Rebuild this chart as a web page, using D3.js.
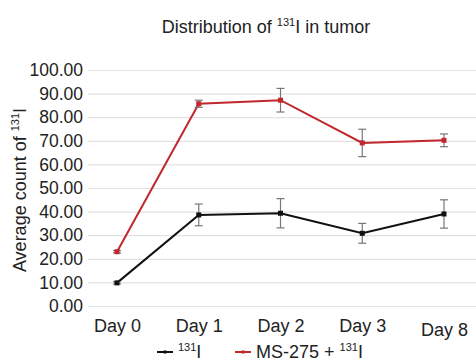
<!DOCTYPE html>
<html>
<head>
<meta charset="utf-8">
<script src="https://cdn.jsdelivr.net/npm/d3@7"></script>
<style>
  body { margin: 0; background: #fff; }
  text { font-family: "Liberation Sans", Arial, sans-serif; fill: #222; }
</style>
</head>
<body>
<svg id="chart" width="476" height="361"></svg>
<script>
let days = ['Day 0', 'Day 1', 'Day 2', 'Day 3', 'Day 8'];
let iodineMean = [9.8, 38.6, 39.3, 30.8, 39.0];
let iodineErr = [0.5, 4.6, 6.2, 4.2, 6.0];
let msMean = [23.0, 85.7, 87.2, 69.1, 70.2];
let msErr = [0.5, 1.5, 5.0, 5.8, 2.7];
let yTicks = [0, 10, 20, 30, 40, 50, 60, 70, 80, 90, 100];

let svg = d3.select('#chart');

let xScale = d3.scalePoint().domain(days).range([117, 444]);
let yScale = d3.scaleLinear().domain([0, 100]).range([306, 70]);

// grid + y labels
let yAxis = d3.axisLeft(yScale).tickValues(yTicks).tickFormat(d3.format('.2f'))
  .tickSize(-388).tickPadding(5);
let yAxisG = svg.append('g').attr('transform', 'translate(88,0)').call(yAxis);
yAxisG.select('.domain').remove();
yAxisG.selectAll('line').attr('stroke', '#e2e2e2').attr('stroke-width', 1.2);
yAxisG.selectAll('text').attr('font-size', 17.5).attr('fill', '#222')
  .attr('font-family', '"Liberation Sans", Arial, sans-serif');

// x labels
let xAxis = d3.axisBottom(xScale).tickSize(0).tickPadding(12);
let xAxisG = svg.append('g').attr('transform', 'translate(0,306)').call(xAxis);
xAxisG.select('.domain').remove();
xAxisG.selectAll('text').attr('font-size', 18).attr('fill', '#222')
  .attr('font-family', '"Liberation Sans", Arial, sans-serif')
  .attr('dy', (d) => d === 'Day 8' ? '1.0em' : '0.78em');

let series = [
  {name: 'iodine', mean: iodineMean, err: iodineErr, color: '#111'},
  {name: 'ms', mean: msMean, err: msErr, color: '#c1272d'}
];

let line = d3.line().x((d, i) => xScale(days[i])).y(d => yScale(d));

series.forEach(s => {
  let g = svg.append('g');
  g.append('path').datum(s.mean)
    .attr('fill', 'none').attr('stroke', s.color).attr('stroke-width', 2)
    .attr('d', line);

  let eb = g.selectAll('.eb').data(s.mean).enter().append('g')
    .attr('stroke', '#777').attr('stroke-width', 1.2);
  eb.append('line')
    .attr('x1', (d, i) => xScale(days[i])).attr('x2', (d, i) => xScale(days[i]))
    .attr('y1', (d, i) => yScale(d + s.err[i])).attr('y2', (d, i) => yScale(d - s.err[i]));
  eb.append('line')
    .attr('x1', (d, i) => xScale(days[i]) - 4).attr('x2', (d, i) => xScale(days[i]) + 4)
    .attr('y1', (d, i) => yScale(d + s.err[i])).attr('y2', (d, i) => yScale(d + s.err[i]));
  eb.append('line')
    .attr('x1', (d, i) => xScale(days[i]) - 4).attr('x2', (d, i) => xScale(days[i]) + 4)
    .attr('y1', (d, i) => yScale(d - s.err[i])).attr('y2', (d, i) => yScale(d - s.err[i]));

  g.selectAll('rect').data(s.mean).enter().append('rect')
    .attr('x', (d, i) => xScale(days[i]) - 2.5)
    .attr('y', d => yScale(d) - 2.5)
    .attr('width', 5).attr('height', 5)
    .attr('fill', s.color);
});

// title
let title = svg.append('text').attr('x', 266).attr('y', 33)
  .attr('text-anchor', 'middle').attr('font-size', 18);
title.append('tspan').text('Distribution of ');
title.append('tspan').attr('font-size', 11).attr('dy', -7).text('131');
title.append('tspan').attr('dy', 7).text('I in tumor');

// y axis title
let yTitle = svg.append('text')
  .attr('transform', 'translate(26,190) rotate(-90)')
  .attr('text-anchor', 'middle').attr('font-size', 18);
yTitle.append('tspan').text('Average count of ');
yTitle.append('tspan').attr('font-size', 11).attr('dy', -7).text('131');
yTitle.append('tspan').attr('dy', 7).text('I');

// legend
let legend = [
  {label: '', x: 157, color: '#111'},
  {label: 'MS-275 + ', x: 235, color: '#c1272d'}
];
legend.forEach(l => {
  let lg = svg.append('g');
  lg.append('line').attr('x1', l.x).attr('x2', l.x + 16).attr('y1', 352).attr('y2', 352)
    .attr('stroke', l.color).attr('stroke-width', 2);
  lg.append('rect').attr('x', l.x + 6.5).attr('y', 350.5).attr('width', 3).attr('height', 3)
    .attr('fill', l.color);
  let t = lg.append('text').attr('x', l.x + 21).attr('y', 358).attr('font-size', 18);
  if (l.label) t.append('tspan').text(l.label);
  t.append('tspan').attr('font-size', 11).attr('dy', -7).text('131');
  t.append('tspan').attr('dy', 7).text('I');
});
</script>
</body>
</html>
